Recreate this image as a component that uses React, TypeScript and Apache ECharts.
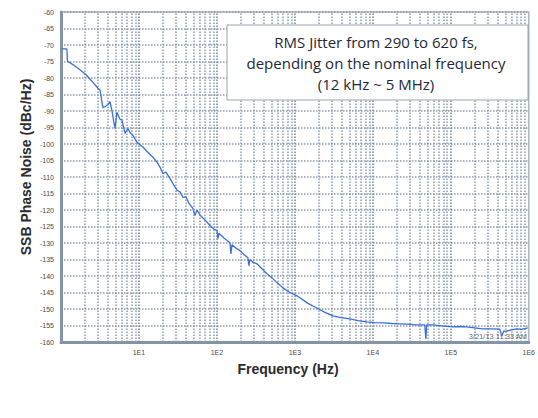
import React, { useEffect, useRef } from "react";
import * as echarts from "echarts";

const freqHz = [
  1.02, 1.19, 1.21, 1.43, 1.75, 2.09, 2.5, 2.98, 3.16, 3.45, 3.78, 4.0, 4.25, 4.51, 4.92, 5.22, 5.71, 6.05,
  6.62, 7.23, 7.67, 8.38, 9.15, 9.71, 11.3, 13.0, 15.1, 17.0, 18.6, 20.3, 22.2, 25.0, 28.1, 30.7, 33.6, 36.7,
  40.1, 43.8, 49.2, 52.2, 55.4, 60.5, 70.2, 81.3, 91.5, 100, 103, 106, 123, 147, 151, 156, 175, 197, 222, 250,
  257, 265, 290, 326, 378, 437, 507, 587, 702, 862, 1060, 1160, 1470, 1910, 2430, 3070, 3890, 5070, 6420,
  8380, 10600, 13400, 17500, 22200, 28100, 36600, 46400, 47800, 49200, 58700, 76700, 106000, 130000, 160000,
  203000, 257000, 336000, 425000, 451000, 478000, 522000, 605000, 702000, 813000, 970000,
];
const phaseNoiseDbc = [
  -71.2, -71.2, -74.9, -76.0, -77.5, -79.0, -81.0, -83.1, -83.6, -89.0, -88.5, -88.0, -87.2, -90.0, -95.3,
  -90.4, -92.5, -92.8, -96.8, -95.3, -96.5, -97.4, -99.0, -99.8, -101.0, -102.5, -104.0, -105.5, -107.0,
  -109.0, -108.5, -110.5, -112.5, -114.0, -114.5, -116.2, -116.0, -118.0, -119.5, -121.7, -120.0, -121.5,
  -123.0, -124.7, -125.8, -126.3, -128.7, -127.0, -128.5, -129.9, -133.3, -130.5, -131.5, -132.3, -133.5,
  -134.5, -136.9, -135.0, -135.8, -136.3, -137.8, -139.3, -140.5, -142.0, -143.6, -145.0, -146.0, -146.6,
  -148.3, -149.7, -151.0, -152.1, -152.6, -153.0, -153.5, -153.9, -154.1, -154.2, -154.4, -154.5, -154.6,
  -154.8, -154.8, -159.1, -154.8, -154.8, -155.1, -155.4, -155.3, -155.4, -155.7, -156.0, -156.0, -156.1,
  -158.2, -156.7, -156.7, -156.3, -156.0, -156.2, -155.7,
];

const xTickLabels = ["", "1E1", "1E2", "1E3", "1E4", "1E5", "1E6"];
const decadeStarts = [1, 10, 100, 1000, 10000, 100000];
const minorMultipliers = [2, 3, 4, 5, 6, 7, 8, 9];
const annotationLines = [
  "RMS Jitter from 290 to 620 fs,",
  "depending on the nominal frequency",
  "(12 kHz ~ 5 MHz)",
];
const timestampText = "3/21/13 11:33 AM";
const yAxisTitle = "SSB Phase Noise (dBc/Hz)";
const xAxisTitle = "Frequency (Hz)";

const Y_MIN = -160;
const Y_MAX = -60;
const Y_STEP = 5;
const X_MIN = 1;
const X_MAX = 1000000;

export default function App() {
  const ref = useRef<HTMLDivElement>(null);

  useEffect(() => {
    document.body.style.margin = "0";
    if (!ref.current) return;
    const chart = echarts.init(ref.current, undefined, { renderer: "svg" });

    const gridDotted = { color: "#8d9caf", type: [1.5, 1.5] as any, width: 1.5 };
    const majorLines = decadeStarts.slice(1).map((v) => ({
      xAxis: v,
      lineStyle: { ...gridDotted, color: "#7b8ca0", width: 1.6 },
    }));
    const minorLines: any[] = [];
    decadeStarts.forEach((d) =>
      minorMultipliers.forEach((m) => minorLines.push({ xAxis: d * m, lineStyle: { ...gridDotted } }))
    );

    const data = freqHz.map((f, i) => [f, phaseNoiseDbc[i]]);

    chart.setOption({
      animation: false,
      backgroundColor: "#ffffff",
      grid: {
        left: 61,
        right: 9,
        top: 12,
        bottom: 76,
        show: true,
        borderColor: "#a9b5c2",
        borderWidth: 1.5,
        backgroundColor: "#ffffff",
      },
      xAxis: {
        type: "log",
        logBase: 10,
        min: X_MIN,
        max: X_MAX,
        splitNumber: 6,
        axisLine: { show: true, lineStyle: { color: "#8394a6", width: 3 } },
        axisTick: { show: false },
        splitLine: { show: false },
        axisLabel: {
          fontSize: 7,
          color: "#4a4a4a",
          fontFamily: "Liberation Sans",
          margin: 7,
          showMinLabel: false,
          formatter: (v: number) => xTickLabels[Math.round(Math.log10(v))] ?? "",
        },
      },
      yAxis: {
        type: "value",
        min: Y_MIN,
        max: Y_MAX,
        interval: Y_STEP,
        axisLine: { show: true, lineStyle: { color: "#8394a6", width: 3 } },
        axisTick: { show: false },
        splitLine: { show: true, lineStyle: gridDotted },
        axisLabel: {
          fontSize: 7,
          color: "#4a4a4a",
          fontFamily: "Liberation Sans",
          margin: 7,
        },
      },
      series: [
        {
          type: "line",
          data,
          showSymbol: false,
          symbol: "none",
          lineStyle: { color: "#3b6fd9", width: 1.3 },
          z: 5,
          markLine: {
            silent: true,
            symbol: "none",
            label: { show: false },
            data: [...minorLines, ...majorLines],
            z: 1,
          },
        },
      ],
      graphic: [
        {
          type: "text",
          x: 26,
          y: 167,
          rotation: Math.PI / 2,
          style: {
            text: yAxisTitle,
            fontSize: 14,
            fontWeight: "bold",
            fontFamily: "Liberation Sans",
            fill: "#2b2b2b",
            align: "center",
            verticalAlign: "middle",
          },
        },
        {
          type: "text",
          x: 288,
          y: 369,
          style: {
            text: xAxisTitle,
            fontSize: 14,
            fontWeight: "bold",
            fontFamily: "Liberation Sans",
            fill: "#2b2b2b",
            align: "center",
            verticalAlign: "middle",
          },
        },
        {
          type: "rect",
          shape: { x: 227, y: 25, width: 301, height: 75 },
          style: { fill: "#ffffff", stroke: "#98a4b1", lineWidth: 1 },
          z: 10,
        },
        {
          type: "text",
          x: 376,
          y: 63,
          z: 11,
          style: {
            text: annotationLines.join("\n"),
            fontSize: 15,
            lineHeight: 21,
            fontFamily: "Open Sans",
            fill: "#1d2838",
            align: "center",
            verticalAlign: "middle",
          },
        },
        {
          type: "text",
          x: 527,
          y: 336,
          z: 11,
          style: {
            text: timestampText,
            fontSize: 7.5,
            fontFamily: "Liberation Sans",
            fill: "#6a6a6a",
            align: "right",
            verticalAlign: "middle",
          },
        },
      ],
    });

    return () => chart.dispose();
  }, []);

  return <div ref={ref} style={{ width: 538, height: 418 }} />;
}
